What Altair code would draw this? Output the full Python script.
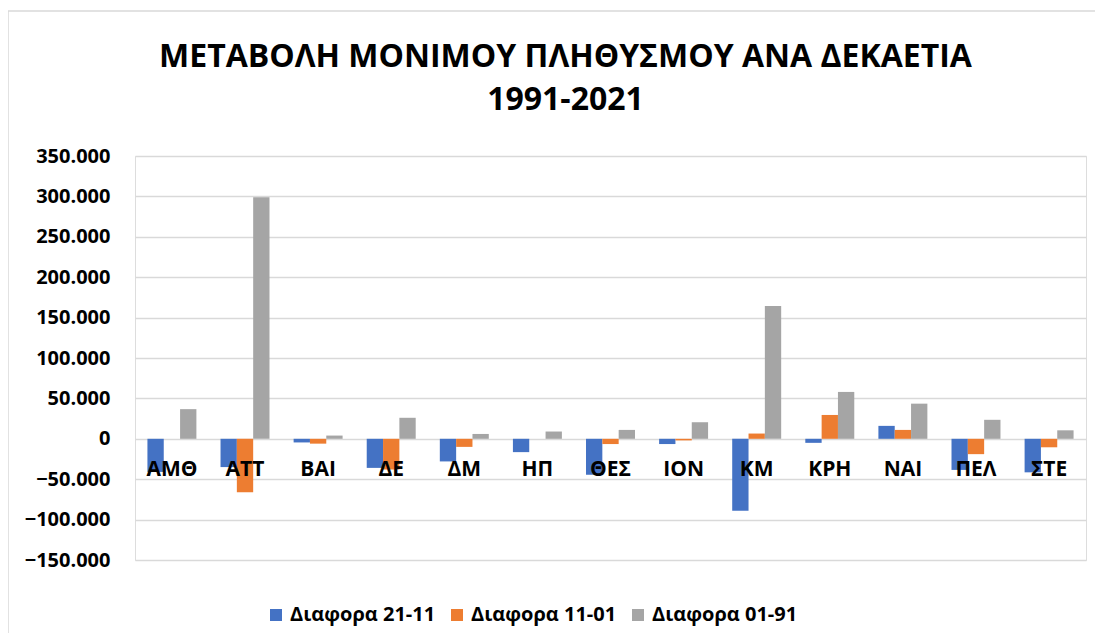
import altair as alt
import pandas as pd

categories = ["ΑΜΘ", "ΑΤΤ", "ΒΑΙ", "ΔΕ", "ΔΜ", "ΗΠ", "ΘΕΣ", "ΙΟΝ", "ΚΜ", "ΚΡΗ", "ΝΑΙ", "ΠΕΛ", "ΣΤΕ"]
series_names = ["Διαφορα 21-11", "Διαφορα 11-01", "Διαφορα 01-91"]
diff_21_11 = [-41000, -35000, -4500, -36000, -28000, -16500, -44500, -6500, -89000, -5000, 16000, -38500, -41500]
diff_11_01 = [0, -66000, -6000, -38000, -10000, 0, -6500, -2000, 6500, 29500, 11000, -19000, -10500]
diff_01_91 = [36700, 299000, 4000, 26000, 6000, 9000, 11000, 20500, 164500, 58000, 43500, 23500, 10500]
colors = ["#4472C4", "#ED7D31", "#A5A5A5"]
y_ticks = [-150000, -100000, -50000, 0, 50000, 100000, 150000, 200000, 250000, 300000, 350000]

rows = []
for name, vals in zip(series_names, [diff_21_11, diff_11_01, diff_01_91]):
    for c, v in zip(categories, vals):
        rows.append({"cat": c, "series": name, "value": v})
df = pd.DataFrame(rows)
cat_df = pd.DataFrame({"cat": categories})

FONT = "Open Sans"

x_enc = alt.X("cat:N", sort=categories,
              scale=alt.Scale(paddingInner=0.33, paddingOuter=0.17), axis=None)

bars = alt.Chart(df).mark_bar().encode(
    x=x_enc,
    xOffset=alt.XOffset("series:N", sort=series_names,
                        scale=alt.Scale(domain=series_names, paddingInner=0, paddingOuter=0)),
    y=alt.Y("value:Q",
            scale=alt.Scale(domain=[-150000, 350000], nice=False, zero=False),
            axis=alt.Axis(values=y_ticks, title=None, grid=True, gridColor="#d9d9d9",
                          gridWidth=1.5, domain=False, ticks=False,
                          labelFont=FONT, labelFontWeight="bold", labelFontSize=20,
                          labelColor="#000000", labelPadding=25,
                          labelExpr="replace(format(datum.value, ','), ',', '.')")),
    color=alt.Color("series:N", sort=series_names,
                    scale=alt.Scale(domain=series_names, range=colors),
                    legend=alt.Legend(title=None, orient="none", direction="horizontal",
                                      legendX=131, legendY=449, symbolType="square",
                                      symbolSize=144, symbolStrokeWidth=0,
                                      labelFont=FONT, labelFontWeight="bold",
                                      labelFontSize=20, labelColor="#000000",
                                      columnPadding=11, labelOffset=4, padding=0,
                                      labelLimit=300)),
)

labels = alt.Chart(cat_df).mark_text(
    font=FONT, fontWeight="bold", fontSize=21, color="#000000",
    baseline="middle", align="center", dy=31,
).encode(
    x=alt.X("cat:N", sort=categories),
    y=alt.datum(0),
    text="cat:N",
)

frame = alt.Chart(pd.DataFrame({"a": [0]})).mark_rect(
    fillOpacity=0, stroke="#d9d9d9", strokeWidth=1.5
).encode(
    x=alt.value(-127), x2=alt.value(1000), y=alt.value(-145), y2=alt.value(600)
)

chart = alt.layer(frame, bars, labels).properties(
    width=951,
    height=404,
    autosize=alt.AutoSizeParams(type="none"),
    padding={"left": 127, "top": 148, "right": 9, "bottom": 73},
    title=alt.TitleParams(
        text=["ΜΕΤΑΒΟΛΗ ΜΟΝΙΜΟΥ ΠΛΗΘΥΣΜΟΥ ΑΝΑ ΔΕΚΑΕΤΙΑ", "1991-2021"],
        font=FONT, fontWeight="bold", fontSize=32, color="#000000",
        lineHeight=43, anchor="middle", dx=-45, offset=-107,
    ),
).configure_view(stroke=None).configure(background="white")

chart.save("out.html", embed_options={"renderer": "svg", "actions": False})
